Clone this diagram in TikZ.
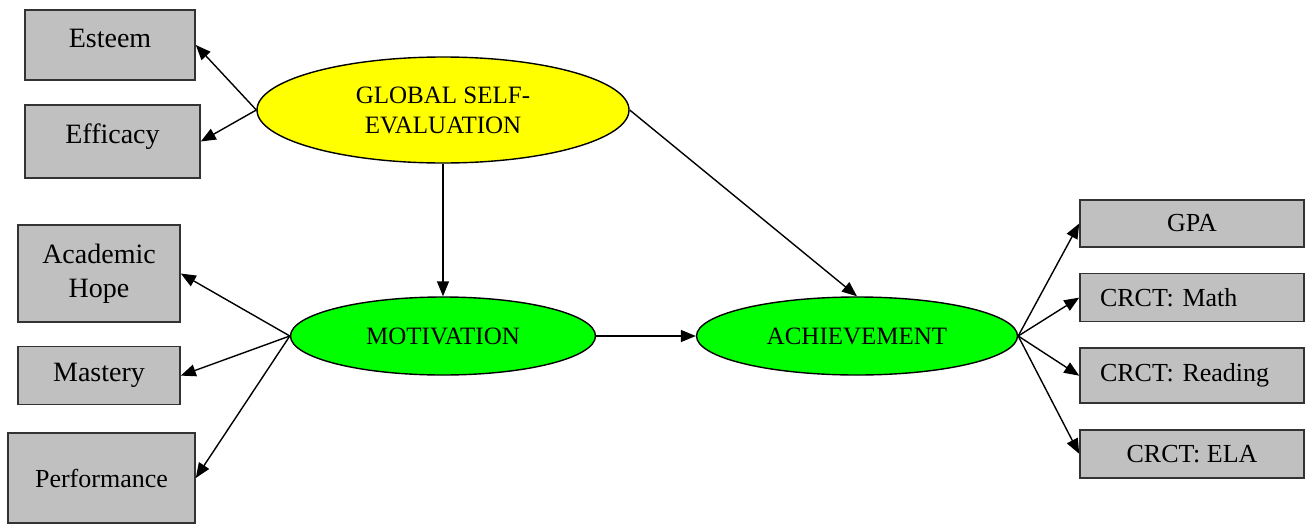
\documentclass[tikz,border=0pt]{standalone}
\usepackage{fontspec}
\setmainfont{Liberation Serif}
\usetikzlibrary{arrows.meta,positioning,shapes.geometric}
\definecolor{boxgray}{HTML}{C0C0C0}
\definecolor{selfyellow}{HTML}{FFFF00}
\definecolor{latgreen}{HTML}{00FF00}
\tikzset{measure/.style={
    % The shape:
    rectangle,
    inner sep=0pt,
    % The border:
    line width=1.6pt,
    draw=black!80,
    % The filling:
    fill=boxgray,
    % Font
    font=\fontsize{28}{34}\selectfont,
    align=center
    },
    crct/.style={
    measure,
    minimum width=224pt,
    font=\fontsize{26}{30}\selectfont,
    },
    factor/.style={
    ellipse,
    inner sep=0pt,
    line width=1.4pt,
    draw=black,
    fill=latgreen,
    font=\fontsize{25}{30}\selectfont,
    align=center
    },
    link/.style={
    line width=1.4pt,
    -{Triangle[length=15pt,width=12pt]}
    },
}

\begin{document}
\begin{tikzpicture}[x=1pt,y=-1pt,node distance=25pt and 0pt]
    \useasboundingbox (0,0) rectangle (1305,525);

    \node (global)  [factor,fill=selfyellow,minimum width=372pt,minimum height=106pt] at (443,110) {GLOBAL SELF-\\EVALUATION};
    \node (motiv)   [factor,minimum width=305pt,minimum height=78pt] at (443,336) {MOTIVATION};
    \node (achieve) [factor,minimum width=321pt,minimum height=78pt] at (857,336) {ACHIEVEMENT};

    \node (esteem)   [measure,minimum width=170pt,minimum height=70pt,text depth=14pt] at (110,45) {Esteem};
    \node (efficacy) [measure,minimum width=175pt,minimum height=73pt,text depth=16pt] at (112.5,141.5) {Efficacy};
    \node (hope)     [measure,minimum width=162pt,minimum height=97pt] at (99,273.5) {Academic\\Hope};
    \node (mastery)  [measure,minimum width=162pt,minimum height=58pt,below=23pt of hope] {Mastery};
    \node (perf)     [measure,minimum width=187pt,minimum height=90pt,font=\fontsize{26}{30}\selectfont] at (101.5,478) {Performance};

    \node (gpa)     [crct,minimum height=47pt] at (1192,223.5) {GPA};
    \node (math)    [crct,minimum height=48pt,below=of gpa,text width=184pt,inner xsep=20pt,align=left] {CRCT: Math};
    \node (reading) [crct,minimum height=55pt,below=of math,text width=184pt,inner xsep=20pt,align=left] {CRCT: Reading};
    \node (ela)     [crct,minimum height=48pt,below=of reading] {CRCT: ELA};

    \path (global.west) edge[link] (esteem.east)
          (global.west) edge[link] (efficacy.east)
          (global.south) edge[link] (motiv.north)
          (global.east) edge[link] (achieve.north);
    \path (motiv.west) edge[link] (hope.east)
          (motiv.west) edge[link] (mastery.east)
          (motiv.west) edge[link] (perf.east)
          (motiv.east) edge[link] (achieve.west);
    \path (achieve.east) edge[link] (gpa.west)
          (achieve.east) edge[link] (math.west)
          (achieve.east) edge[link] (reading.west)
          (achieve.east) edge[link] (ela.west);
\end{tikzpicture}
\end{document}
